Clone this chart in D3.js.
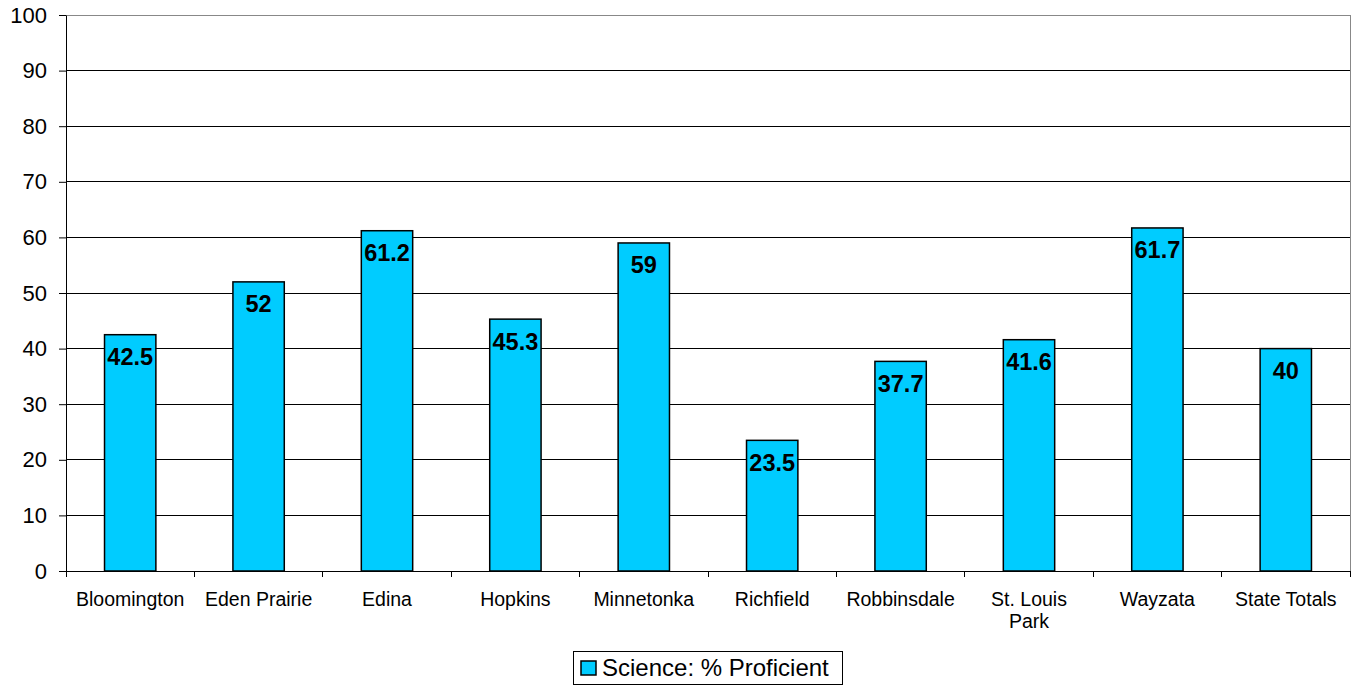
<!DOCTYPE html>
<html><head><meta charset="utf-8">
<script src="https://cdn.jsdelivr.net/npm/d3@7"></script>
<style>body{margin:0;background:#fff}svg{display:block;font-family:"Liberation Sans",Arial,sans-serif}</style>
</head><body><svg id="c" width="1357" height="685"></svg>
<script>
const categories = ["Bloomington","Eden Prairie","Edina","Hopkins","Minnetonka","Richfield","Robbinsdale","St. Louis Park","Wayzata","State Totals"];
const values = [42.5,52,61.2,45.3,59,23.5,37.7,41.6,61.7,40];
const yTicks = [0,10,20,30,40,50,60,70,80,90,100];
const seriesName = "Science: % Proficient";

const svg = d3.select("#c");
const L=66,R=1350,T=15,B=571;
const x = d3.scaleBand().domain(categories).range([L,R]);
const y = d3.scaleLinear().domain([0,100]).range([B,T]);

// gridlines
svg.append("g").selectAll("line").data(yTicks.filter(d=>d>0)).join("line")
  .attr("x1",L).attr("x2",R).attr("y1",d=>y(d)).attr("y2",d=>y(d))
  .attr("stroke",d=>d===100?"#888":"#000").attr("stroke-width",1).attr("shape-rendering","crispEdges");
// right border
svg.append("line").attr("x1",R).attr("x2",R).attr("y1",T).attr("y2",B).attr("stroke","#888").attr("shape-rendering","crispEdges");

// bars
const bw = x.bandwidth()*0.4;
svg.append("g").selectAll("rect").data(values).join("rect")
  .attr("x",(d,i)=>x(categories[i])+x.bandwidth()/2-bw/2)
  .attr("y",d=>y(d)).attr("width",bw).attr("height",d=>B-y(d))
  .attr("fill","#00CCFF").attr("stroke","#000").attr("stroke-width",1.5);

// value labels
svg.append("g").selectAll("text").data(values).join("text")
  .attr("x",(d,i)=>x(categories[i])+x.bandwidth()/2)
  .attr("y",d=>y(d)+30.5).attr("text-anchor","middle")
  .attr("font-size",23.5).attr("font-weight","bold").attr("fill","#000").text(d=>d);

// y axis
const yAxis = svg.append("g").attr("transform",`translate(${L},0)`)
  .call(d3.axisLeft(y).tickValues(yTicks).tickSize(7).tickSizeOuter(0).tickPadding(12));
yAxis.select(".domain").attr("stroke","#000");
yAxis.selectAll("line").attr("stroke","#000");
yAxis.selectAll("text").attr("font-size",22).attr("fill","#000").attr("font-family","'Liberation Sans',Arial,sans-serif");

// x axis
const xg = svg.append("g");
xg.append("line").attr("x1",L).attr("x2",R).attr("y1",B).attr("y2",B).attr("stroke","#000").attr("shape-rendering","crispEdges");
const bounds = categories.map(c=>x(c)).concat([R]);
xg.selectAll("line.tk").data(bounds).join("line").attr("class","tk")
  .attr("x1",d=>d).attr("x2",d=>d).attr("y1",B).attr("y2",B+6).attr("stroke","#000").attr("shape-rendering","crispEdges");
const lab = xg.selectAll("text").data(categories).join("text")
  .attr("x",d=>x(d)+x.bandwidth()/2).attr("y",606).attr("text-anchor","middle")
  .attr("font-size",19.5).attr("fill","#000");
lab.each(function(d){
  const t=d3.select(this);
  if(d==="St. Louis Park"){
    t.append("tspan").attr("x",x(d)+x.bandwidth()/2).attr("dy",0).text("St. Louis");
    t.append("tspan").attr("x",x(d)+x.bandwidth()/2).attr("dy",22).text("Park");
  } else t.text(d);
});

// legend
const lg = svg.append("g");
lg.append("rect").attr("x",573.5).attr("y",651.5).attr("width",269).attr("height",33).attr("fill","#fff").attr("stroke","#000");
lg.append("rect").attr("x",581).attr("y",661).attr("width",15).attr("height",14).attr("fill","#00CCFF").attr("stroke","#000").attr("stroke-width",1.5);
lg.append("text").attr("x",602).attr("y",676).attr("font-size",24).attr("fill","#000").text(seriesName);
</script></body></html>
